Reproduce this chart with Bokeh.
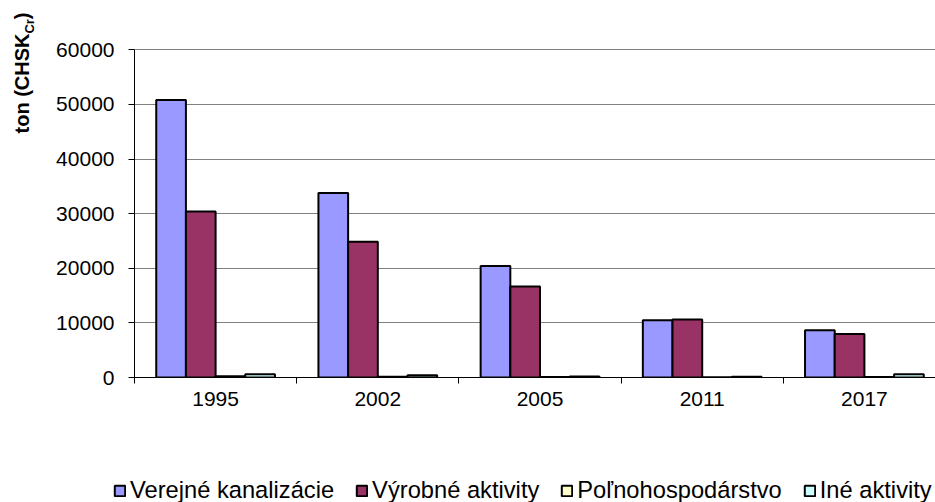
import math
from bokeh.plotting import figure
from bokeh.layouts import row, column
from bokeh.models import ColumnDataSource, Range1d, FixedTicker, Legend, LegendItem
from bokeh.core.properties import value
from bokeh.transform import dodge
from bokeh.embed import file_html
from bokeh.resources import INLINE

years = ["1995", "2002", "2005", "2011", "2017"]
verejne = [50800, 33800, 20400, 10500, 8650]
vyrobne = [30400, 24850, 16650, 10600, 7950]
polno = [250, 150, 80, 60, 100]
ine = [600, 400, 200, 150, 600]
series_names = ["Verejné kanalizácie", "Výrobné aktivity", "Poľnohospodárstvo", "Iné aktivity"]
series_colors = ["#9999FF", "#993366", "#FFFFCC", "#CCFFFF"]
y_ticks = [0, 10000, 20000, 30000, 40000, 50000, 60000]
y_max = 60000

FONT = "Liberation Sans"
TOTAL_W, TOTAL_H = 935, 502
TITLE_W = 50
MAIN_H = 470
LEG_H = TOTAL_H - MAIN_H

# frame geometry (page pixels)
FRAME_TOP = 5
FRAME_BOTTOM = 377
TOP_TICK_Y = 49.3

xc = [i + 0.5 for i in range(len(years))]
src = ColumnDataSource(dict(x=xc, v=verejne, w=vyrobne, p=polno, i=ine))

frame_left = 134.5 - TITLE_W
frame_w = TOTAL_W - 134.5
y_end = y_max * (FRAME_BOTTOM - FRAME_TOP) / (FRAME_BOTTOM - TOP_TICK_Y)
p = figure(width=TOTAL_W - TITLE_W, height=MAIN_H, output_backend="svg", toolbar_location=None,
           x_range=Range1d(0, frame_w / 162.1), y_range=Range1d(0, y_end),
           min_border_left=int(round(frame_left)), min_border_right=0, min_border_top=FRAME_TOP,
           min_border_bottom=MAIN_H - FRAME_BOTTOM)
p.outline_line_color = None
p.background_fill_color = "white"
p.border_fill_color = "white"

bw = 0.183
renderers = []
for k, (col, color) in enumerate(zip(["v", "w", "p", "i"], series_colors)):
    off = (k - 1.5) * bw
    r = p.vbar(x=dodge("x", off, range=p.x_range), top=col, width=bw, bottom=0, source=src,
               fill_color=color, line_color="black", line_width=2)
    renderers.append(r)

xa = p.xaxis[0]
xa.ticker = FixedTicker(ticks=xc, minor_ticks=[0, 1, 2, 3, 4, 5])
xa.major_label_overrides = {x: y for x, y in zip(xc, years)}
xa.major_tick_line_color = None
xa.major_tick_out = 0
xa.major_tick_in = 0
xa.minor_tick_out = 6
xa.minor_tick_in = 0
xa.minor_tick_line_color = "black"
xa.axis_line_color = "black"
xa.major_label_text_font = FONT
xa.major_label_text_font_size = "21px"
xa.major_label_text_color = "black"
xa.major_label_standoff = 8

ya = p.yaxis[0]
ya.ticker = FixedTicker(ticks=y_ticks, minor_ticks=[])
ya.bounds = (0, y_max)
ya.major_tick_out = 6
ya.major_tick_in = 0
ya.major_tick_line_color = "black"
ya.axis_line_color = "black"
ya.major_label_text_font = FONT
ya.major_label_text_font_size = "21px"
ya.major_label_text_color = "black"
ya.major_label_standoff = 14

p.xgrid.grid_line_color = None
p.ygrid.grid_line_color = "#808080"
p.ygrid.grid_line_width = 1

# --- y-axis title panel (its frame is aligned with the main frame: page y 5..377)
t = figure(width=TITLE_W, height=MAIN_H, output_backend="svg", toolbar_location=None,
           x_range=Range1d(0, TITLE_W), y_range=Range1d(MAIN_H - FRAME_BOTTOM, MAIN_H - FRAME_TOP),
           x_axis_type=None, y_axis_type=None,
           min_border=0, min_border_left=0, min_border_right=0,
           min_border_top=FRAME_TOP, min_border_bottom=MAIN_H - FRAME_BOTTOM)
t.grid.visible = False
t.outline_line_color = None

def ty(page_y):
    return MAIN_H - page_y

title_parts = [("ton (CHSK", "20px", 21.6, 83.0),
               ("Cr", "13px", 29.0, 25.8),
               (")", "20px", 21.6, 15.3)]
for txt, size, cx, cy in title_parts:
    t.text(x=[cx], y=[ty(cy)], text=[txt], angle=math.pi / 2,
           text_font=value(FONT), text_font_style="bold", text_font_size=size,
           text_align="center", text_baseline="middle", text_color="black")

# --- legend panel (legend glyph renderers are zero-size so they draw nothing in the plot)
lg = figure(width=TOTAL_W, height=LEG_H, output_backend="svg", toolbar_location=None,
            x_range=Range1d(0, 1), y_range=Range1d(0, 1),
            x_axis_type=None, y_axis_type=None,
            min_border=0, min_border_left=0, min_border_right=0, min_border_top=0, min_border_bottom=0)
lg.grid.visible = False
lg.outline_line_color = None
leg_src = ColumnDataSource(dict(x=[0.5], top=[0.5], bottom=[0.5]))
leg_rs = []
for color in series_colors:
    leg_rs.append(lg.vbar(x="x", top="top", bottom="bottom", width=0, source=leg_src,
                          fill_color=color, line_color="black", line_width=2))
legend = Legend(items=[LegendItem(label=n, renderers=[r]) for n, r in zip(series_names, leg_rs)],
                orientation="horizontal", location=(113, -2),
                glyph_width=13, glyph_height=13, label_standoff=4, spacing=21,
                padding=0, margin=0, border_line_color=None, background_fill_alpha=0,
                label_text_font=FONT, label_text_font_size="23.7px", label_text_color="black")
lg.add_layout(legend, "center")

layout = column(row(t, p), lg)
open("out.html", "w").write(file_html(layout, INLINE))
